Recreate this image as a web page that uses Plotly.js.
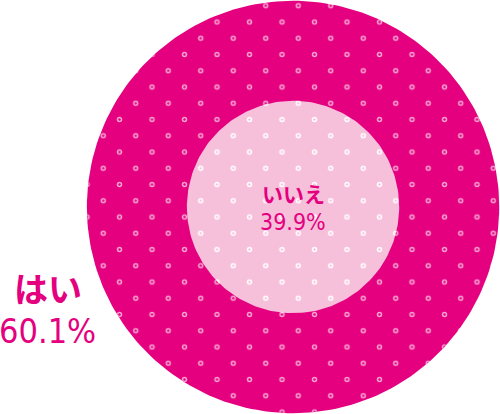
<!DOCTYPE html>
<html>
<head>
<meta charset="utf-8">
<script src="https://cdn.plot.ly/plotly-3.0.1.min.js"></script>
<style>
  html, body { margin: 0; padding: 0; background: #fff; overflow: hidden; }
  #chart { position: absolute; }
</style>
</head>
<body>
<div id="chart"></div>
<script>
// answers and their shares (%)
const answers = ["はい", "いいえ"];
const shares = [60.1, 39.9];

// look
const magenta = "#e4007f";
const lightPink = "#f6c0da";
const ringPink = "#f7a6d2";
const outerR = 206;          // px, whole circle
const innerRatio = 0.515;    // inner circle radius / outer radius
const tile = 32.5;           // dot pattern spacing
const cx = 293, cy = 207;    // circle centre in the picture

// the chart is drawn a little bigger than the window so the
// offset subplots (for the staggered dot rows) never clip inside it;
// pad also sets where the dot grid lands
const pad = 42.75;
const shift = tile / 2;
const W = 500 + 2 * pad;
const H = 414 + 2 * pad;
document.getElementById("chart").style.left = -pad + "px";
document.getElementById("chart").style.top = -pad + "px";

// closed circle outline (centre 0,0)
const circle = (r) => {
    const x = [];
    const y = [];
    for (let i = 0; i <= 240; i++) {
        const a = (i / 240) * 2 * Math.PI;
        x.push(r * Math.cos(a));
        y.push(r * Math.sin(a));
    }
    return { x, y };
};

const outer = circle(outerR);
const inner = circle(outerR * innerRatio);

const dotted = (pts, ax, bg, fg, solidity) => ({
    x: pts.x,
    y: pts.y,
    xaxis: "x" + ax,
    yaxis: "y" + ax,
    type: "scatter",
    mode: "lines",
    line: { width: 0 },
    fill: "toself",
    fillcolor: bg,
    fillpattern: { shape: ".", bgcolor: bg, fgcolor: fg, size: tile, solidity: solidity, fillmode: "replace" },
    hoverinfo: "skip",
});

const clear = "rgba(0,0,0,0)";
const ringDot = 0.022;
const ringHole = 0.0045;

// subplots 1 & 3 sit at the origin, 2 & 4 are shifted half a tile
const data = [
    dotted(outer, "", magenta, ringPink, ringDot),
    dotted(outer, "", clear, magenta, ringHole),
    dotted(outer, "2", clear, ringPink, ringDot),
    dotted(outer, "2", clear, magenta, ringHole),
    dotted(inner, "3", lightPink, "#ffffff", ringDot),
    dotted(inner, "3", clear, lightPink, ringHole),
    dotted(inner, "4", clear, "#ffffff", ringDot),
    dotted(inner, "4", clear, lightPink, ringHole),
];

const axisPair = (o) => {
    const x = {
        domain: [o / W, (W - shift + o) / W],
        range: [o - pad - cx, W - shift + o - pad - cx],
        visible: false, fixedrange: true,
    };
    const y = {
        domain: [(shift - o) / H, (H - o) / H],
        range: [cy - (H - shift + o - pad), cy - (o - pad)],
        visible: false, fixedrange: true,
    };
    return { x, y };
};

const numFont = "'DejaVu Sans Condensed', 'Liberation Sans Narrow', sans-serif";
const jpFont = "'Noto Sans CJK JP', sans-serif";

const layout = {
    width: W,
    height: H,
    margin: { l: 0, r: 0, t: 0, b: 0 },
    paper_bgcolor: "#fff",
    plot_bgcolor: clear,
    showlegend: false,
    annotations: [
        { x: -245, y: -80, text: "<b>" + answers[0] + "</b>", font: { family: jpFont, size: 34, color: magenta } },
        { x: -245, y: -124, text: shares[0].toFixed(1) + "%", font: { family: numFont, size: 34, color: magenta } },
        { x: 0, y: 14, text: "<b>" + answers[1] + "</b>", font: { family: jpFont, size: 21, color: magenta } },
        { x: 0, y: -15, text: shares[1].toFixed(1) + "%", font: { family: numFont, size: 23, color: magenta } },
    ].map((a) => Object.assign({ xref: "x", yref: "y", showarrow: false, xanchor: "center", yanchor: "middle" }, a)),
};

["", "2", "3", "4"].forEach((ax, i) => {
    const p = axisPair(i % 2 ? shift : 0);
    layout["xaxis" + ax] = Object.assign({ anchor: "y" + ax }, p.x);
    layout["yaxis" + ax] = Object.assign({ anchor: "x" + ax }, p.y);
});

Plotly.newPlot("chart", data, layout, { displayModeBar: false, staticPlot: true });
</script>
</body>
</html>
